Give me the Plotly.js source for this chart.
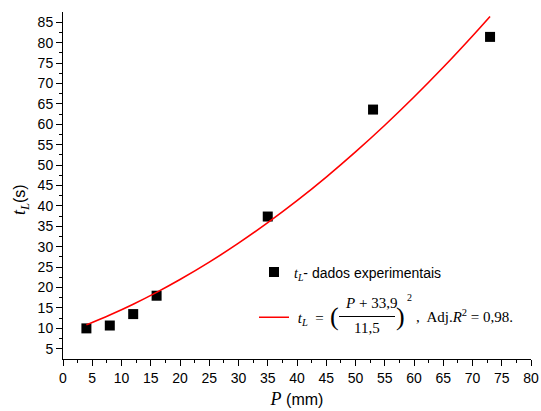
<!DOCTYPE html>
<html><head><meta charset="utf-8">
<script src="https://cdn.plot.ly/plotly-3.0.1.min.js"></script>
<style>body{margin:0;background:#fff}#c{width:541px;height:411px}</style>
</head><body><div id="c"></div>
<script>
const P_exp = [4, 8, 12, 16, 35, 53, 73];
const t_exp = [10.0, 10.7, 13.5, 18.0, 37.4, 63.6, 81.4];
const P_fit = [4, 8, 12, 16, 20, 25, 30, 35, 40, 45, 50, 55, 60, 65, 70, 73];
const t_fit = [10.86, 13.28, 15.93, 18.83, 21.97, 26.23, 30.87, 35.90, 41.29, 47.07, 53.23, 59.76, 66.67, 73.96, 81.63, 86.41];
const xTicks = [0,5,10,15,20,25,30,35,40,45,50,55,60,65,70,75,80];
const yTicks = [5,10,15,20,25,30,35,40,45,50,55,60,65,70,75,80,85];

const SERIF = 'Liberation Serif, Times New Roman, serif';
const SANS = 'Liberation Sans, Arial, sans-serif';
const N = '&nbsp;';
const expName = '<span style="font-family:' + SERIF + '"><i>t<sub>L</sub></i></span>- dados experimentais';
const eqName = '<span style="font-family:' + SERIF + ';font-size:15px">' + N + '<i>t<sub>L</sub></i>' + N + N + '=</span>';

const traces = [
  {x: P_exp, y: t_exp, mode: 'markers', type: 'scatter',
   marker: {symbol: 'square', size: 10, color: '#000'},
   name: expName, legendgroup: 'a'},
  {x: P_fit, y: t_fit, mode: 'lines', type: 'scatter', line: {color: '#ff0000', width: 1.6, shape: 'spline'},
   name: eqName, legendgroup: 'b'}
];

const axCommon = {showgrid: false, zeroline: false, showline: true, linecolor: '#000', linewidth: 1,
  tickcolor: '#000', ticklen: 6, tickwidth: 1};

const px = v => (v - 63) / 468;
const py = v => (359 - v) / 347;
const ann = (x, y, text, font, extra) => Object.assign({xref: 'paper', yref: 'paper', x: px(x), y: py(y), text: text,
  showarrow: false, xanchor: 'center', yanchor: 'middle', font: font}, extra || {});

const layout = {
  width: 541, height: 411,
  margin: {l: 63, r: 10, t: 12, b: 52},
  paper_bgcolor: '#fff', plot_bgcolor: '#fff',
  font: {family: SANS, color: '#000', size: 14},
  showlegend: true,
  legend: {x: px(254), y: py(295), xanchor: 'left', yanchor: 'middle', bgcolor: 'rgba(0,0,0,0)',
    tracegroupgap: 24, traceorder: 'grouped', font: {size: 14, family: SANS}},
  annotations: [
    ann(334, 316, '(', {family: SERIF, size: 26}),
    ann(371, 303, '<i>P</i> + 33,9', {family: SERIF, size: 15}),
    ann(367, 328, '11,5', {family: SERIF, size: 15}),
    ann(400, 316, ')', {family: SERIF, size: 26}),
    ann(409, 297, '2', {family: SERIF, size: 10}),
    ann(414, 316, ',' + N + ' Adj.<i>R</i><sup>2</sup> = 0,98.', {family: SERIF, size: 15}, {xanchor: 'left'}),
    ann(21, 200, '<span style="font-family:' + SERIF + ';font-size:18px"><i>t<sub>L</sub></i></span>(s)', {family: SANS, size: 16}, {textangle: -90})
  ],
  shapes: [
    {type: 'line', xref: 'paper', yref: 'paper', x0: px(339), x1: px(395), y0: py(316.5), y1: py(316.5),
     line: {color: '#000', width: 1}}
  ],
  xaxis: Object.assign({}, axCommon, {range: [0, 80], tickvals: xTicks, ticktext: xTicks.map(String), ticks: 'outside',
    minor: {tickvals: xTicks.map(v => v + 2.5).filter(v => v < 80), ticks: 'outside', ticklen: 3, tickcolor: '#000'},
    tickfont: {size: 14},
    title: {text: '<span style="font-family:' + SERIF + ';font-size:18px"><i>P</i></span> (mm)', font: {size: 16, family: SANS}, standoff: 9}}),
  yaxis: Object.assign({}, axCommon, {range: [2.5, 87.5], tickvals: yTicks, ticktext: yTicks.map(String), ticks: 'outside',
    minor: {tickvals: yTicks.map(v => v - 2.5).filter(v => v > 2.5), ticks: 'outside', ticklen: 3, tickcolor: '#000'},
    tickfont: {size: 14}}),
  xaxis2: Object.assign({}, axCommon, {overlaying: 'x', side: 'top', anchor: 'y', range: [0, 80], tickvals: xTicks,
    ticks: 'inside', showticklabels: false,
    minor: {tickvals: xTicks.map(v => v + 2.5).filter(v => v < 80), ticks: 'inside', ticklen: 3, tickcolor: '#000'}}),
  yaxis2: Object.assign({}, axCommon, {overlaying: 'y', side: 'right', anchor: 'x', range: [2.5, 87.5], tickvals: yTicks,
    ticks: 'inside', showticklabels: false,
    minor: {tickvals: yTicks.map(v => v - 2.5).filter(v => v > 2.5), ticks: 'inside', ticklen: 3, tickcolor: '#000'}})
};
Plotly.newPlot('c', traces, layout, {displayModeBar: false, staticPlot: true});
</script></body></html>
